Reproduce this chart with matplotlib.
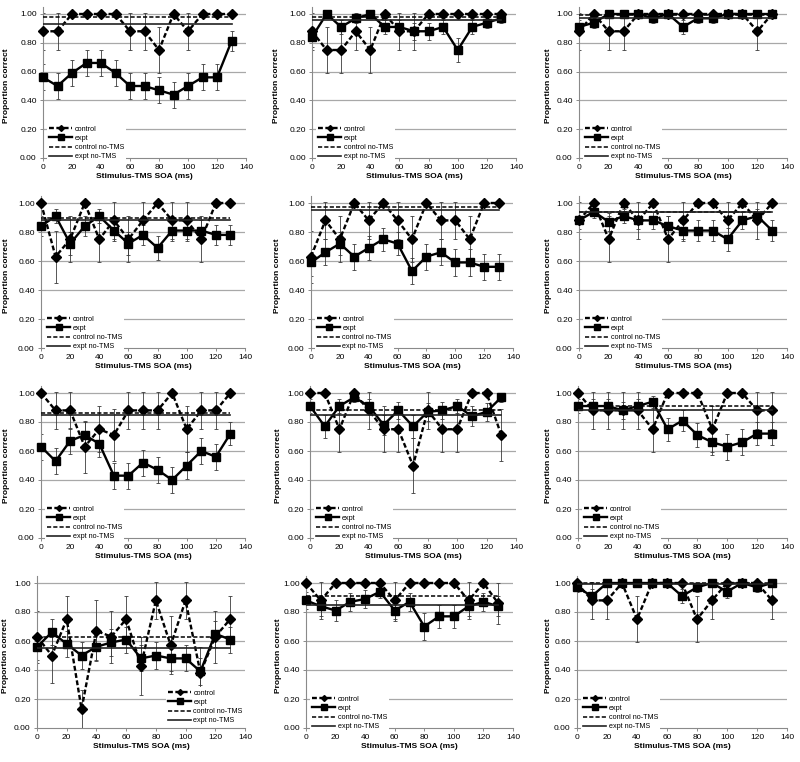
import matplotlib
matplotlib.use("Agg")
import matplotlib.pyplot as plt

plt.rcParams['font.family'] = ['Liberation Sans', 'DejaVu Sans']
plt.rcParams['lines.scale_dashes'] = False

soa = [0, 10, 20, 30, 40, 50, 60, 70, 80, 90, 100, 110, 120, 130]
xticks = [0, 20, 40, 60, 80, 100, 120, 140]
yticks = [0.0, 0.2, 0.4, 0.6, 0.8, 1.0]

p1_control = [0.88, 0.88, 1, 1, 1, 1, 0.88, 0.88, 0.75, 1, 0.88, 1, 1, 1]
p1_control_err = [0.13, 0.13, 0, 0, 0, 0, 0.13, 0.13, 0.16, 0, 0.13, 0, 0, 0]
p1_expt = [0.56, 0.50, 0.59, 0.66, 0.66, 0.59, 0.50, 0.50, 0.47, 0.44, 0.50, 0.56, 0.56, 0.81]
p1_expt_err = [0.09, 0.09, 0.09, 0.09, 0.09, 0.09, 0.09, 0.09, 0.09, 0.09, 0.09, 0.09, 0.09, 0.07]
p1_notms = (0.98, 0.93)

p2_control = [0.88, 0.75, 0.75, 0.88, 0.75, 1, 0.88, 0.88, 1, 1, 1, 1, 1, 1]
p2_control_err = [0.13, 0.16, 0.16, 0.13, 0.16, 0, 0.13, 0.13, 0, 0, 0, 0, 0, 0]
p2_expt = [0.84, 1.00, 0.91, 0.97, 1.00, 0.91, 0.91, 0.88, 0.88, 0.91, 0.75, 0.91, 0.94, 0.97]
p2_expt_err = [0.07, 0, 0.05, 0.03, 0, 0.05, 0.05, 0.06, 0.06, 0.05, 0.08, 0.05, 0.04, 0.03]
p2_notms = (0.98, 0.96)

p3_control = [0.88, 1, 0.88, 0.88, 1, 1, 1, 1, 1, 1, 1, 1, 0.88, 1]
p3_control_err = [0.13, 0, 0.13, 0.13, 0, 0, 0, 0, 0, 0, 0, 0, 0.13, 0]
p3_expt = [0.91, 0.94, 1, 1, 1, 0.97, 1, 0.91, 0.97, 0.97, 1, 1, 1, 1]
p3_expt_err = [0.05, 0.04, 0, 0, 0, 0.03, 0, 0.05, 0.03, 0.03, 0, 0, 0, 0]
p3_notms = (0.99, 0.97)

p4_control = [1, 0.63, 0.75, 1, 0.75, 0.88, 0.75, 0.88, 1, 0.88, 0.88, 0.75, 1, 1]
p4_control_err = [0, 0.18, 0.16, 0, 0.16, 0.13, 0.16, 0.13, 0, 0.13, 0.13, 0.16, 0, 0]
p4_expt = [0.84, 0.91, 0.72, 0.84, 0.91, 0.81, 0.72, 0.78, 0.69, 0.81, 0.81, 0.81, 0.78, 0.78]
p4_expt_err = [0.07, 0.05, 0.08, 0.07, 0.05, 0.07, 0.08, 0.07, 0.08, 0.07, 0.07, 0.07, 0.07, 0.07]
p4_notms = (0.90, 0.88)

p5_control = [0.63, 0.88, 0.75, 1, 0.88, 1, 0.88, 0.75, 1, 0.88, 0.88, 0.75, 1, 1]
p5_control_err = [0.18, 0.13, 0.16, 0, 0.13, 0, 0.13, 0.16, 0, 0.13, 0.13, 0.16, 0, 0]
p5_expt = [0.59, 0.66, 0.72, 0.63, 0.69, 0.75, 0.72, 0.53, 0.63, 0.66, 0.59, 0.59, 0.56, 0.56]
p5_expt_err = [0.09, 0.09, 0.08, 0.09, 0.08, 0.08, 0.08, 0.09, 0.09, 0.09, 0.09, 0.09, 0.09, 0.09]
p5_notms = (0.97, 0.95)

p6_control = [0.88, 1, 0.75, 1, 0.88, 1, 0.75, 0.88, 1, 1, 0.88, 1, 0.88, 1]
p6_control_err = [0.13, 0, 0.16, 0, 0.13, 0, 0.16, 0.13, 0, 0, 0.13, 0, 0.13, 0]
p6_expt = [0.88, 0.94, 0.87, 0.91, 0.88, 0.88, 0.84, 0.81, 0.81, 0.81, 0.75, 0.88, 0.91, 0.81]
p6_expt_err = [0.06, 0.04, 0.06, 0.05, 0.06, 0.06, 0.07, 0.07, 0.07, 0.07, 0.08, 0.06, 0.05, 0.07]
p6_notms = (0.94, 0.935)

p7_control = [1, 0.88, 0.88, 0.63, 0.75, 0.71, 0.88, 0.88, 0.88, 1, 0.75, 0.88, 0.88, 1]
p7_control_err = [0, 0.13, 0.13, 0.18, 0.16, 0.18, 0.13, 0.13, 0.13, 0, 0.16, 0.13, 0.13, 0]
p7_expt = [0.63, 0.53, 0.67, 0.71, 0.65, 0.43, 0.43, 0.52, 0.47, 0.40, 0.50, 0.60, 0.56, 0.72]
p7_expt_err = [0.09, 0.09, 0.09, 0.09, 0.09, 0.09, 0.09, 0.09, 0.09, 0.09, 0.09, 0.09, 0.09, 0.08]
p7_notms = (0.86, 0.85)

p8_control = [1, 1, 0.75, 1, 0.88, 0.75, 0.75, 0.50, 0.88, 0.75, 0.75, 1, 1, 0.71]
p8_control_err = [0, 0, 0.16, 0, 0.13, 0.16, 0.16, 0.19, 0.13, 0.16, 0.16, 0, 0, 0.18]
p8_expt = [0.91, 0.77, 0.91, 0.97, 0.91, 0.78, 0.88, 0.77, 0.87, 0.88, 0.91, 0.84, 0.87, 0.97]
p8_expt_err = [0.05, 0.08, 0.05, 0.03, 0.05, 0.07, 0.06, 0.08, 0.06, 0.06, 0.05, 0.07, 0.06, 0.03]
p8_notms = (0.88, 0.85)

p9_control = [1, 0.88, 0.88, 0.88, 0.88, 0.75, 1, 1, 1, 0.75, 1, 1, 0.88, 0.88]
p9_control_err = [0, 0.13, 0.13, 0.13, 0.13, 0.16, 0, 0, 0, 0.16, 0, 0, 0.13, 0.13]
p9_expt = [0.91, 0.91, 0.91, 0.88, 0.91, 0.94, 0.75, 0.81, 0.71, 0.66, 0.63, 0.66, 0.72, 0.72]
p9_expt_err = [0.05, 0.05, 0.05, 0.06, 0.05, 0.04, 0.08, 0.07, 0.08, 0.09, 0.09, 0.09, 0.08, 0.08]
p9_notms = (0.91, 0.88)

p10_control = [0.63, 0.50, 0.75, 0.13, 0.67, 0.63, 0.75, 0.43, 0.88, 0.57, 0.88, 0.38, 0.63, 0.75]
p10_control_err = [0.18, 0.19, 0.16, 0.13, 0.21, 0.18, 0.16, 0.20, 0.13, 0.20, 0.13, 0.18, 0.18, 0.16]
p10_expt = [0.56, 0.66, 0.58, 0.50, 0.56, 0.59, 0.61, 0.48, 0.50, 0.48, 0.48, 0.39, 0.65, 0.61]
p10_expt_err = [0.09, 0.09, 0.09, 0.09, 0.09, 0.09, 0.09, 0.09, 0.09, 0.09, 0.09, 0.09, 0.09, 0.09]
p10_notms = (0.63, 0.55)

p11_control = [1, 0.88, 1, 1, 1, 1, 0.88, 1, 1, 1, 1, 0.88, 1, 0.86]
p11_control_err = [0, 0.13, 0, 0, 0, 0, 0.13, 0, 0, 0, 0, 0.13, 0, 0.14]
p11_expt = [0.88, 0.84, 0.81, 0.87, 0.89, 0.94, 0.81, 0.87, 0.70, 0.77, 0.77, 0.84, 0.87, 0.84]
p11_expt_err = [0.06, 0.07, 0.07, 0.06, 0.06, 0.04, 0.07, 0.06, 0.09, 0.08, 0.08, 0.07, 0.06, 0.07]
p11_notms = (0.91, 0.85)

p12_control = [1, 0.88, 0.88, 1, 0.75, 1, 1, 1, 0.75, 0.88, 1, 1, 1, 0.88]
p12_control_err = [0, 0.13, 0.13, 0, 0.16, 0, 0, 0, 0.16, 0.13, 0, 0, 0, 0.13]
p12_expt = [0.97, 0.91, 1, 1, 1, 1, 1, 0.91, 0.97, 1, 0.94, 1, 0.97, 1]
p12_expt_err = [0.03, 0.05, 0, 0, 0, 0, 0, 0.05, 0.03, 0, 0.04, 0, 0.03, 0]
p12_notms = (1.00, 0.99)

panels = [
    (p1_control, p1_control_err, p1_expt, p1_expt_err, p1_notms),
    (p2_control, p2_control_err, p2_expt, p2_expt_err, p2_notms),
    (p3_control, p3_control_err, p3_expt, p3_expt_err, p3_notms),
    (p4_control, p4_control_err, p4_expt, p4_expt_err, p4_notms),
    (p5_control, p5_control_err, p5_expt, p5_expt_err, p5_notms),
    (p6_control, p6_control_err, p6_expt, p6_expt_err, p6_notms),
    (p7_control, p7_control_err, p7_expt, p7_expt_err, p7_notms),
    (p8_control, p8_control_err, p8_expt, p8_expt_err, p8_notms),
    (p9_control, p9_control_err, p9_expt, p9_expt_err, p9_notms),
    (p10_control, p10_control_err, p10_expt, p10_expt_err, p10_notms),
    (p11_control, p11_control_err, p11_expt, p11_expt_err, p11_notms),
    (p12_control, p12_control_err, p12_expt, p12_expt_err, p12_notms),
]

# pixel geometry: (x of 0, x of 140, y of 1.00, y of 0.00, ylabel offset px)
geom = [
    (43, 246, 14, 158, 33), (312, 516, 14, 158, 32), (579, 787, 14, 158, 27),
    (41, 245, 203, 348, 31), (311, 513, 203, 348, 30), (579, 787, 203, 348, 27),
    (41, 245, 393, 538, 31), (310, 516, 393, 538, 28), (578, 787, 393, 538, 26),
    (37, 245, 583, 728, 28), (306, 513, 583, 728, 24), (577, 787, 583, 728, 25),
]

W, H = 800, 762
fig = plt.figure(figsize=(W / 100, H / 100), dpi=100)

YTOP = 1.05
grid_c = '#a8a8a8'
axis_c = '#8a8a8a'
err_c = '#3a3a3a'

for i, ((ctl, ctl_e, exp, exp_e, notms), (x0, x1, y1, y0, ylo)) in enumerate(zip(panels, geom)):
    unit = (y0 - y1)
    top_px = y0 - unit * YTOP
    ax = fig.add_axes([x0 / W, 1 - y0 / H, (x1 - x0) / W, (y0 - top_px) / H])
    ax.set_xlim(0, 140)
    ax.set_ylim(0, YTOP)
    for s in ['top', 'right']:
        ax.spines[s].set_visible(False)
    for s in ['left', 'bottom']:
        ax.spines[s].set_color(axis_c)
        ax.spines[s].set_linewidth(0.8)
    ax.set_xticks(xticks)
    ax.set_yticks(yticks)
    ax.set_yticklabels([f"{v:.2f}" for v in yticks])
    ax.tick_params(axis='both', labelsize=6, length=2.5, width=0.7, color=axis_c, pad=2)
    for yv in yticks[1:]:
        ax.axhline(yv, color=grid_c, lw=0.9, zorder=0)

    ax.errorbar(soa, ctl, yerr=ctl_e, fmt='none', ecolor=err_c, elinewidth=0.6,
                capsize=1.6, capthick=0.6, zorder=2)
    ax.errorbar(soa, exp, yerr=exp_e, fmt='none', ecolor=err_c, elinewidth=0.6,
                capsize=1.6, capthick=0.6, zorder=2)
    ax.plot(soa, ctl, color='black', lw=1.7, dashes=(3.5, 1.8), marker='D', ms=4.6,
            label='control', clip_on=False, zorder=3)
    ax.plot(soa, exp, color='black', lw=1.7, marker='s', ms=5.6,
            label='expt', clip_on=False, zorder=4)
    ax.plot([soa[0], soa[-1]], [notms[0], notms[0]], color='black', lw=1.1,
            dashes=(3.0, 1.5), label='control no-TMS', zorder=5)
    ax.plot([soa[0], soa[-1]], [notms[1], notms[1]], color='#222222', lw=1.2,
            label='expt no-TMS', zorder=5)

    ax.set_xlabel('Stimulus-TMS SOA (ms)', fontsize=6, fontweight='bold', labelpad=1)
    ax.set_ylabel('Proportion correct', fontsize=6, fontweight='bold')
    ax.yaxis.set_label_coords(-ylo / (x1 - x0), 0.5 / YTOP)

    leg_kw = dict(fontsize=5.2, handlelength=3.2, handletextpad=0.3, labelspacing=0.3,
                  borderpad=0.3, borderaxespad=0, frameon=True, markerscale=0.65)
    if i == 9:
        leg = ax.legend(loc='lower right', bbox_to_anchor=(1.0, 0.01), **leg_kw)
    else:
        leg = ax.legend(loc='lower left', bbox_to_anchor=(0.02, -0.03), **leg_kw)
    leg.get_frame().set_facecolor('white')
    leg.get_frame().set_edgecolor('none')
    leg.get_frame().set_alpha(1)
    leg.set_zorder(6)

fig.savefig('out.png', dpi=100, facecolor='white')
